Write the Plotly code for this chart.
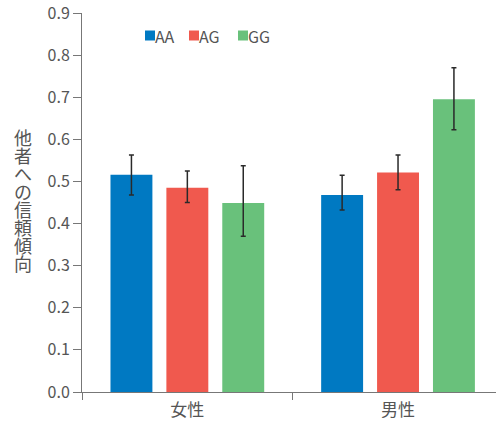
import plotly.graph_objects as go

categories = ["女性", "男性"]
series_names = ["AA", "AG", "GG"]
aa_values = [0.516, 0.468]
ag_values = [0.485, 0.521]
gg_values = [0.449, 0.695]
aa_err_plus = [0.047, 0.047]
aa_err_minus = [0.048, 0.036]
ag_err_plus = [0.040, 0.042]
ag_err_minus = [0.035, 0.041]
gg_err_plus = [0.088, 0.075]
gg_err_minus = [0.079, 0.072]
y_ticks = [0.0, 0.1, 0.2, 0.3, 0.4, 0.5, 0.6, 0.7, 0.8, 0.9]
y_tick_labels = ["0.0", "0.1", "0.2", "0.3", "0.4", "0.5", "0.6", "0.7", "0.8", "0.9"]
y_title = "他者への信頼傾向"

colors = ["#0079C2", "#F0594E", "#69C17B"]
values = [aa_values, ag_values, gg_values]
err_plus = [aa_err_plus, ag_err_plus, gg_err_plus]
err_minus = [aa_err_minus, ag_err_minus, gg_err_minus]

FONT = "Noto Sans CJK JP"
W, H = 496, 425
ML, MR, MT, MB = 82, 0, 13, 33
PW, PH = W - ML - MR, H - MT - MB

def px_to_paper_x(px):
    return (px - ML) / PW

def py_to_paper_y(py):
    return (H - MB - py) / PH

fig = go.Figure()
for name, col, v, ep, em in zip(series_names, colors, values, err_plus, err_minus):
    fig.add_trace(go.Bar(
        name=name, x=categories, y=v, marker=dict(color=col, line=dict(width=0)),
        error_y=dict(type="data", symmetric=False, array=ep, arrayminus=em,
                     color="#2a2a2a", thickness=1.5, width=2.5),
        showlegend=False,
    ))

# manual legend (square + label)
legend_px = [145, 189, 238]
legend_py = 35.5
for name, col, px in zip(series_names, colors, legend_px):
    x0 = px_to_paper_x(px)
    x1 = px_to_paper_x(px + 10)
    y0 = py_to_paper_y(legend_py + 5)
    y1 = py_to_paper_y(legend_py - 5)
    fig.add_shape(type="rect", xref="paper", yref="paper", x0=x0, x1=x1, y0=y0, y1=y1,
                  fillcolor=col, line=dict(width=0))
    fig.add_annotation(text=name, xref="paper", yref="paper", x=x1, y=(y0 + y1) / 2,
                       xanchor="left", yanchor="middle", showarrow=False,
                       font=dict(family=FONT, size=16, color="#555555"), xshift=-2)

# vertical (upright) y-axis title
pitch = 18.1
first_center = 136.5
for i, ch in enumerate(y_title):
    py = first_center + i * pitch
    fig.add_annotation(text=ch, xref="paper", yref="paper",
                       x=px_to_paper_x(23), y=py_to_paper_y(py),
                       xanchor="center", yanchor="middle", showarrow=False,
                       font=dict(family=FONT, size=18, color="#555555"))

fig.update_layout(
    width=W, height=H,
    margin=dict(l=ML, r=MR, t=MT, b=MB, pad=0, autoexpand=False),
    paper_bgcolor="white", plot_bgcolor="white",
    barmode="group", bargap=0.204, bargroupgap=0.25,
    font=dict(family=FONT, color="#555555"),
    xaxis=dict(range=[-0.5, 1.465], showline=True, linecolor="#777777", linewidth=1,
               ticks="outside", tickson="boundaries", ticklen=7, tickcolor="#777777",
               tickfont=dict(family=FONT, size=17, color="#555555"),
               ticklabelstandoff=3, automargin=False,
               showgrid=False, zeroline=False),
    yaxis=dict(range=[0, 0.9], tickvals=y_ticks, ticktext=y_tick_labels, showline=True,
               linecolor="#777777", linewidth=1, ticks="outside", ticklen=8,
               tickcolor="#777777", tickfont=dict(family=FONT, size=16, color="#555555"),
               ticklabeloverflow="allow", automargin=False,
               showgrid=False, zeroline=False),
)

fig.write_html("out.html", config={"displayModeBar": False},
               post_script="document.body.style.margin='0px';document.body.style.overflow='hidden';")
